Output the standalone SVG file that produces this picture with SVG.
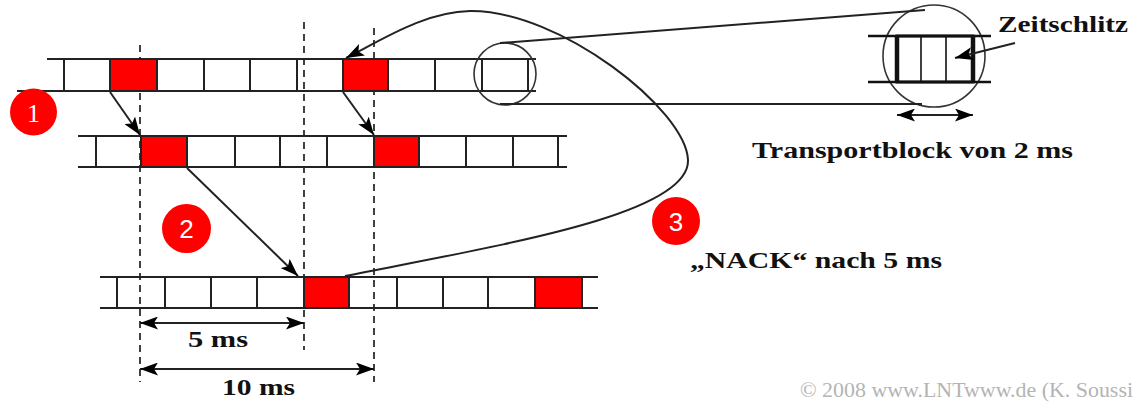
<svg xmlns="http://www.w3.org/2000/svg" width="1135" height="403" viewBox="0 0 1135 403">
<style>
.ln{stroke:#222;stroke-width:2;fill:none}
.cell{fill:#ff0000;stroke:#222;stroke-width:2}
.dash{stroke:#111;stroke-width:1.6;stroke-dasharray:7,5;fill:none}
.con{stroke:#222;stroke-width:2;fill:none}
.lbl{font-family:"Liberation Serif","Times New Roman",serif;font-weight:bold;font-size:24px;fill:#111}
.badge{fill:#ff0000}
.num{font-family:"Liberation Sans",Arial,sans-serif;font-size:26px;fill:#fff;text-anchor:middle}
.num1{font-family:"Liberation Serif","Times New Roman",serif;font-size:26px;fill:#fff;text-anchor:middle}
.copy{font-family:"Liberation Serif","Times New Roman",serif;font-size:20px;fill:#b4b4b4}
</style>
<defs>
<marker id="ah" viewBox="0 0 18 13" refX="18" refY="6.5" markerUnits="userSpaceOnUse" markerWidth="18" markerHeight="13" orient="auto-start-reverse">
<path d="M0,0 L18,6.5 L0,13 L4,6.5 z" fill="#000"/>
</marker>
</defs>
<rect width="1135" height="403" fill="#fff"/>

<g id="dashes">
<line class="dash" x1="140" y1="45" x2="140" y2="382"/>
<line class="dash" x1="304" y1="22" x2="304" y2="350"/>
<line class="dash" x1="374" y1="28" x2="374" y2="382"/>
</g>

<g id="row1">
<rect class="cell" x="110" y="59" width="47" height="32"/>
<rect class="cell" x="343" y="59" width="45" height="32"/>
<line class="ln" x1="47" y1="59" x2="536" y2="59"/>
<line class="ln" x1="17" y1="91" x2="536" y2="91"/>
<path class="ln" d="M64,59V91M204,59V91M250,59V91M297,59V91M435,59V91M482,59V91M528,59V91"/>
</g>

<g id="row2">
<rect class="cell" x="141" y="136" width="46" height="31"/>
<rect class="cell" x="374" y="136" width="45" height="31"/>
<line class="ln" x1="78" y1="136" x2="567" y2="136"/>
<line class="ln" x1="78" y1="167" x2="567" y2="167"/>
<path class="ln" d="M96,136V167M235,136V167M280,136V167M327,136V167M466,136V167M513,136V167M558,136V167"/>
</g>

<g id="row3">
<rect class="cell" x="304" y="277" width="45" height="31"/>
<rect class="cell" x="535" y="277" width="47" height="31"/>
<line class="ln" x1="100" y1="277" x2="598" y2="277"/>
<line class="ln" x1="100" y1="308" x2="598" y2="308"/>
<path class="ln" d="M117,277V308M165,277V308M211,277V308M257,277V308M397,277V308M443,277V308M488,277V308"/>
</g>

<g id="magnifier">
<circle cx="505" cy="74" r="31" stroke="#333" stroke-width="1.6" fill="none"/>
<circle cx="934" cy="56" r="51" stroke="#333" stroke-width="1.6" fill="none"/>
<line class="con" x1="500" y1="43" x2="925" y2="10"/>
<line class="con" x1="500" y1="104" x2="922" y2="104"/>
</g>

<g id="timeslot">
<line x1="868" y1="36" x2="991" y2="36" stroke="#111" stroke-width="2.5"/>
<line x1="868" y1="82" x2="991" y2="82" stroke="#111" stroke-width="2.5"/>
<rect x="897" y="36" width="76" height="46" fill="none" stroke="#111" stroke-width="3"/>
<line x1="897" y1="36" x2="897" y2="82" stroke="#111" stroke-width="4.5"/>
<line x1="973" y1="36" x2="973" y2="82" stroke="#111" stroke-width="4.5"/>
<line x1="921" y1="36" x2="921" y2="82" stroke="#111" stroke-width="1.6"/>
<line x1="946" y1="36" x2="946" y2="82" stroke="#111" stroke-width="1.6"/>
</g>

<g id="connectors">
<line class="con" x1="110" y1="92" x2="140" y2="135" marker-end="url(#ah)"/>
<line class="con" x1="343" y1="92" x2="374" y2="135" marker-end="url(#ah)"/>
<line class="con" x1="187" y1="168" x2="298" y2="276" marker-end="url(#ah)"/>
<path class="con" d="M345,276 C500,245 690,215 688,160 C686,110 560,10 470,11 C425,12 385,38 346,58" marker-end="url(#ah)"/>
<line class="con" x1="1015" y1="43" x2="955" y2="58" marker-end="url(#ah)"/>
<line class="con" x1="897" y1="115" x2="973" y2="115" marker-start="url(#ah)" marker-end="url(#ah)"/>
<line class="con" x1="140" y1="323" x2="304" y2="323" marker-start="url(#ah)" marker-end="url(#ah)"/>
<line class="con" x1="140" y1="369" x2="374" y2="369" marker-start="url(#ah)" marker-end="url(#ah)"/>
</g>

<g id="badge1"><circle class="badge" cx="33.5" cy="112" r="23.5"/><text class="num1" x="33.5" y="122">1</text></g>
<g id="badge2"><circle class="badge" cx="186.5" cy="228.5" r="24.5"/><text class="num" x="186.5" y="238">2</text></g>
<g id="badge3"><circle class="badge" cx="676" cy="221" r="24"/><text class="num" x="676" y="231">3</text></g>

<g id="labels">
<text class="lbl" x="998" y="32" textLength="130" lengthAdjust="spacingAndGlyphs">Zeitschlitz</text>
<text class="lbl" x="752" y="158" textLength="321" lengthAdjust="spacingAndGlyphs">Transportblock von 2 ms</text>
<text class="lbl" x="690" y="268" textLength="252" lengthAdjust="spacingAndGlyphs">„NACK“ nach 5 ms</text>
<text class="lbl" x="188" y="347" textLength="60" lengthAdjust="spacingAndGlyphs">5 ms</text>
<text class="lbl" x="222" y="395" textLength="73" lengthAdjust="spacingAndGlyphs">10 ms</text>
<text class="copy" x="800" y="397" textLength="333" lengthAdjust="spacingAndGlyphs">© 2008 www.LNTwww.de (K. Soussi</text>
</g>
</svg>
